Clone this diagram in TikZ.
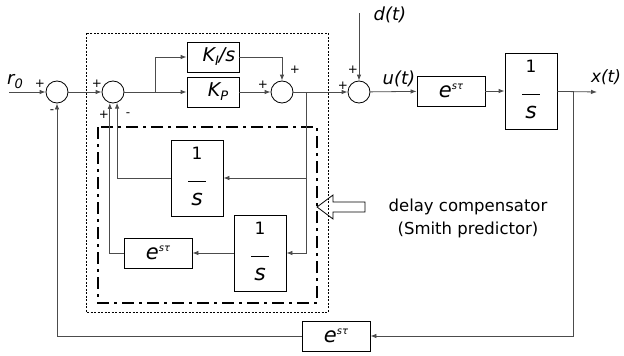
\documentclass[tikz,border=0pt]{standalone}
\usepackage{fontspec}
\setmainfont{DejaVu Sans}
\usetikzlibrary{arrows.meta}
\newcommand{\lo}[1]{\raisebox{-4pt}{\fontsize{13}{13}\selectfont #1}}
\newcommand{\texp}{{\fontsize{21}{21}\selectfont\textit{e}}\raisebox{8pt}{\fontsize{10}{10}\selectfont\textit{sτ}}}

\begin{document}
\begin{tikzpicture}[x=1pt,y=-1pt,>={Latex[length=6pt,width=4.5pt]},
  every node/.style={font=\fontsize{18}{20}\selectfont},
  wire/.style={draw=black!70,line width=0.8pt},
  blk/.style={draw,line width=0.8pt,minimum width=52pt,minimum height=30pt,inner sep=0pt},
  dblk/.style={blk,minimum width=68pt},
  fracblk/.style={blk,minimum height=76pt,
    path picture={
      \coordinate (pp) at (path picture bounding box.north);
      \node[font=\fontsize{17}{17}\selectfont] at ([yshift=-13pt]pp) {1};
      \draw[line width=0.7pt] ([xshift=-9pt,yshift=-41pt]pp) -- ([xshift=9pt,yshift=-41pt]pp);
      \node[font=\fontsize{22}{22}\selectfont] at ([yshift=-59pt]pp) {\textit{s}};}},
  sumj/.style={draw,circle,minimum size=22pt,inner sep=0pt,line width=0.8pt},
  sgn/.style={font=\fontsize{12}{12}\selectfont}]
\useasboundingbox (0,0) rectangle (624,356);
\draw[line width=0.7pt,dash pattern=on 2pt off 1.5pt] (86,33) rectangle (328,312);
\draw[line width=2.5pt,dash pattern=on 12pt off 5pt on 3pt off 5pt] (98,127) rectangle (317,303);

\node[sumj] (s1) at (57,92) {};
\node[sumj] (s2) at (113,92) {};
\node[blk] (ki) at (213,57) {\hspace*{12pt}\fontsize{19}{19}\selectfont\textit{K\lo{I}/s}};
\node[blk] (kp) at (213,92) {\hspace*{10pt}\fontsize{19}{19}\selectfont\textit{K\lo{P}}};
\node[sumj] (s3) at (282,92) {};
\node[sumj] (s4) at (359,92) {};
\node[dblk] (ed) at (451,91) {\texp};
\node[fracblk] (pl) at (531,91) {};
\node[fracblk] (g1) at (197,178) {};
\node[fracblk] (g2) at (260,253) {};
\node[dblk] (e2) at (158,253) {\texp};
\node[dblk] (e3) at (336,336) {\texp};

\coordinate (r) at (9,92);
\coordinate (d) at (359,13);
\coordinate (x) at (597,92);
\coordinate (b1) at (155,92);
\coordinate (b2) at (306,92);
\coordinate (b3) at (573,92);
\coordinate (b4) at (306,178);

\draw[wire,->] (r) -- (s1);
\draw[wire,->] (s1) -- (s2);
\draw[wire,->] (s2) -- (kp);
\draw[wire,->] (b1) |- (ki);
\draw[wire,->] (ki) -| (s3);
\draw[wire,->] (kp) -- (s3);
\draw[wire,->] (s3) -- (s4);
\draw[wire,->] (b2) |- (g2);
\draw[wire,->] (b4) -- (g1);
\draw[wire,->] (g1) -| (s2.-69);
\draw[wire,->] (g2) -- (e2);
\draw[wire,->] (e2) -| (s2.-106);
\draw[wire,->] (d) -- (s4);
\draw[wire,->] (s4) -- (ed);
\draw[wire,->] (ed) -- (pl);
\draw[wire,->] (pl) -- (x);
\draw[wire,->] (b3) |- (e3);
\draw[wire,->] (e3) -| (s1);

\node (lr) at (15,82) {\textit{r\lo{0}}};
\node (ld) at (390,15) {\textit{d(t)}};
\node (lu) at (399,79) {\textit{u(t)}};
\node[font=\fontsize{17}{19}\selectfont] (lx) at (606,77) {\textit{x(t)}};
\node[sgn] at (40,84) {+};
\node[sgn] at (52,112) {-};
\node[sgn] at (97,84) {+};
\node[sgn] at (104,115) {+};
\node[sgn] at (128,115) {-};
\node[sgn] at (263,85) {+};
\node[sgn] at (295,70) {+};
\node[sgn] at (343,86) {+};
\node[sgn] at (353,70) {+};

\draw[line width=0.8pt] (317,207) -- (333,195) -- (333,202) -- (365,202) -- (365,212) -- (333,212) -- (333,219) -- cycle;
\node[align=center,font=\fontsize{16.5}{23}\selectfont] (txt) at (468,218) {delay compensator\\(Smith predictor)};
\end{tikzpicture}
\end{document}
